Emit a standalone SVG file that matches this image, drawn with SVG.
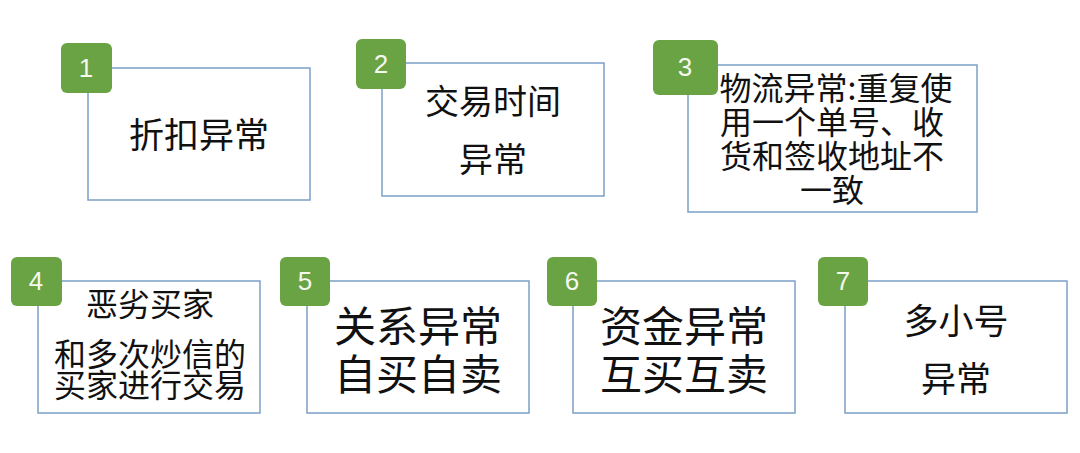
<svg xmlns="http://www.w3.org/2000/svg" width="1080" height="453" viewBox="0 0 1080 453">
<style>
.b{fill:#fff;stroke:#7ba0c8;stroke-width:1.5}
.t{fill:#6aa343}
.n{font-family:"Liberation Sans",sans-serif;font-size:26px;fill:#f4f8ee;text-anchor:middle}
.x{font-family:"Noto Sans CJK SC",sans-serif;fill:#111;text-anchor:middle}
</style>
<rect width="1080" height="453" fill="#fff"/>
<g id="n1"><rect class="b" x="88" y="68" width="222" height="132"/><rect class="t" x="61" y="43" width="51" height="50" rx="6"/><text class="n" x="86" y="77">1</text><text class="x" x="199" y="148" font-size="35">折扣异常</text></g>
<g id="n2"><rect class="b" x="382" y="63" width="222" height="133"/><rect class="t" x="356" y="39" width="50" height="50" rx="6"/><text class="n" x="381" y="73">2</text><text class="x" x="493" y="114" font-size="34">交易时间</text><text class="x" x="493" y="172" font-size="34">异常</text></g>
<g id="n3"><rect class="b" x="688" y="65" width="289" height="147"/><text class="x" font-size="32"><tspan x="836" y="100">物流异常:重复使</tspan><tspan x="832" y="134">用一个单号、收</tspan><tspan x="832" y="168">货和签收地址不</tspan><tspan x="832" y="202">一致</tspan></text><rect class="t" x="653" y="40" width="65" height="55" rx="6"/><text class="n" x="685" y="76">3</text></g>
<g id="n4"><rect class="b" x="38" y="281" width="222" height="132"/><rect class="t" x="11" y="257" width="51" height="49" rx="6"/><text class="n" x="36" y="290">4</text><text class="x" font-size="32"><tspan x="150" y="316">恶劣买家</tspan><tspan x="150" y="366">和多次炒信的</tspan><tspan x="150" y="397">买家进行交易</tspan></text></g>
<g id="n5"><rect class="b" x="307" y="281" width="222" height="132"/><rect class="t" x="280" y="257" width="50" height="49" rx="6"/><text class="n" x="305" y="290">5</text><text class="x" font-size="42"><tspan x="418" y="342">关系异常</tspan><tspan x="418" y="390">自买自卖</tspan></text></g>
<g id="n6"><rect class="b" x="573" y="281" width="222" height="132"/><rect class="t" x="547" y="257" width="50" height="49" rx="6"/><text class="n" x="572" y="290">6</text><text class="x" font-size="42"><tspan x="684" y="342">资金异常</tspan><tspan x="684" y="390">互买互卖</tspan></text></g>
<g id="n7"><rect class="b" x="845" y="281" width="222" height="132"/><rect class="t" x="818" y="257" width="50" height="49" rx="6"/><text class="n" x="843" y="290">7</text><text class="x" font-size="35"><tspan x="956" y="334">多小号</tspan><tspan x="956" y="392">异常</tspan></text></g>
<g id="connectors"/>
</svg>
